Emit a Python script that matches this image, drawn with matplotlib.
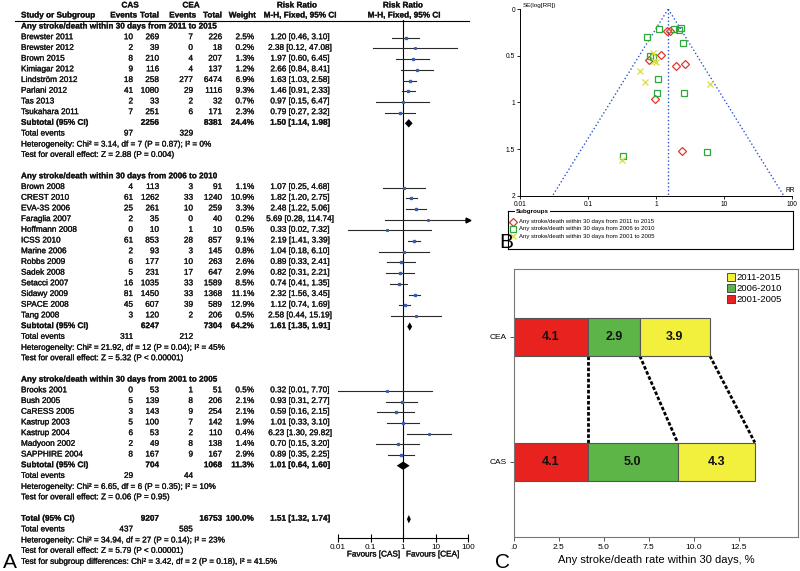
import numpy as np
import matplotlib
matplotlib.use('Agg')
import matplotlib.pyplot as plt
import matplotlib.patheffects as pe
from matplotlib.patches import Patch

plt.rcParams['font.family'] = ['Liberation Sans', 'DejaVu Sans']

W, H = 800, 571

# ---- forest plot data ----
g1_title = 'Any stroke/death within 30 days from 2011 to 2015'
g1_names = ['Brewster 2011', 'Brewster 2012', 'Brown 2015', 'Kimiagar 2012',
            'Lindström 2012', 'Parlani 2012', 'Tas 2013', 'Tsukahara 2011']
g1_cas_ev = [10, 2, 8, 9, 18, 41, 2, 7]
g1_cas_n = [269, 39, 210, 116, 258, 1080, 33, 251]
g1_cea_ev = [7, 0, 4, 4, 277, 29, 2, 6]
g1_cea_n = [226, 18, 207, 137, 6474, 1116, 32, 171]
g1_weight = [2.5, 0.2, 1.3, 1.2, 6.9, 9.3, 0.7, 2.3]
g1_rr = [1.20, 2.38, 1.97, 2.66, 1.63, 1.46, 0.97, 0.79]
g1_lo = [0.46, 0.12, 0.60, 0.84, 1.03, 0.91, 0.15, 0.27]
g1_hi = [3.10, 47.08, 6.45, 8.41, 2.58, 2.33, 6.47, 2.32]
g1_sub = [2256, 8381, 24.4, 1.50, 1.14, 1.98]
g1_events = [97, 329]
g1_het = 'Heterogeneity: Chi² = 3.14, df = 7 (P = 0.87); I² = 0%'
g1_test = 'Test for overall effect: Z = 2.88 (P = 0.004)'

g2_title = 'Any stroke/death within 30 days from 2006 to 2010'
g2_names = ['Brown 2008', 'CREST 2010', 'EVA-3S 2006', 'Faraglia 2007',
            'Hoffmann 2008', 'ICSS 2010', 'Marine 2006', 'Robbs 2009',
            'Sadek 2008', 'Setacci 2007', 'Sidawy 2009', 'SPACE 2008', 'Tang 2008']
g2_cas_ev = [4, 61, 25, 2, 0, 61, 2, 6, 5, 16, 81, 45, 3]
g2_cas_n = [113, 1262, 261, 35, 10, 853, 93, 177, 231, 1035, 1450, 607, 120]
g2_cea_ev = [3, 33, 10, 0, 1, 28, 3, 10, 17, 33, 33, 39, 2]
g2_cea_n = [91, 1240, 259, 40, 10, 857, 145, 263, 647, 1589, 1368, 589, 206]
g2_weight = [1.1, 10.9, 3.3, 0.2, 0.5, 9.1, 0.8, 2.6, 2.9, 8.5, 11.1, 12.9, 0.5]
g2_rr = [1.07, 1.82, 2.48, 5.69, 0.33, 2.19, 1.04, 0.89, 0.82, 0.74, 2.32, 1.12, 2.58]
g2_lo = [0.25, 1.20, 1.22, 0.28, 0.02, 1.41, 0.18, 0.33, 0.31, 0.41, 1.56, 0.74, 0.44]
g2_hi = [4.68, 2.75, 5.06, 114.74, 7.32, 3.39, 6.10, 2.41, 2.21, 1.35, 3.45, 1.69, 15.19]
g2_sub = [6247, 7304, 64.2, 1.61, 1.35, 1.91]
g2_events = [311, 212]
g2_het = 'Heterogeneity: Chi² = 21.92, df = 12 (P = 0.04); I² = 45%'
g2_test = 'Test for overall effect: Z = 5.32 (P < 0.00001)'

g3_title = 'Any stroke/death within 30 days from 2001 to 2005'
g3_names = ['Brooks 2001', 'Bush 2005', 'CaRESS 2005', 'Kastrup 2003',
            'Kastrup 2004', 'Madyoon 2002', 'SAPPHIRE 2004']
g3_cas_ev = [0, 5, 3, 5, 6, 2, 8]
g3_cas_n = [53, 139, 143, 100, 53, 49, 167]
g3_cea_ev = [1, 8, 9, 7, 2, 8, 9]
g3_cea_n = [51, 206, 254, 142, 110, 138, 167]
g3_weight = [0.5, 2.1, 2.1, 1.9, 0.4, 1.4, 2.9]
g3_rr = [0.32, 0.93, 0.59, 1.01, 6.23, 0.70, 0.89]
g3_lo = [0.01, 0.31, 0.16, 0.33, 1.30, 0.15, 0.35]
g3_hi = [7.70, 2.77, 2.15, 3.10, 29.82, 3.20, 2.25]
g3_sub = [704, 1068, 11.3, 1.01, 0.64, 1.60]
g3_events = [29, 44]
g3_het = 'Heterogeneity: Chi² = 6.65, df = 6 (P = 0.35); I² = 10%'
g3_test = 'Test for overall effect: Z = 0.06 (P = 0.95)'

tot_sub = [9207, 16753, 100.0, 1.51, 1.32, 1.74]
tot_events = [437, 585]
tot_het = 'Heterogeneity: Chi² = 34.94, df = 27 (P = 0.14); I² = 23%'
tot_test = 'Test for overall effect: Z = 5.79 (P < 0.00001)'
tot_subgroup = 'Test for subgroup differences: Chi² = 3.42, df = 2 (P = 0.18), I² = 41.5%'

# ---- funnel plot SE values (panel B) ----
g1_se = [0.49, 1.52, 0.61, 0.59, 0.23, 0.24, 0.96, 0.55]
g2_se = [0.75, 0.21, 0.36, 1.53, 1.57, 0.22, 0.90, 0.51, 0.50, 0.30, 0.20, 0.21, 0.90]
g3_se = [1.62, 0.56, 0.66, 0.57, 0.80, 0.78, 0.47]
pooled_rr = 1.51

# ---- stacked bars (panel C) ----
bar_cats = ['CAS', 'CEA']
rate_2001_2005 = [4.1, 4.1]
rate_2006_2010 = [5.0, 2.9]
rate_2011_2015 = [4.3, 3.9]

fig = plt.figure(figsize=(8, 5.71), dpi=100)


def px_axes(x0, y0, x1, y1):
    return fig.add_axes([x0 / W, 1 - y1 / H, (x1 - x0) / W, (y1 - y0) / H])


def px_text(x, y, s, **kw):
    fig.text(x / W, 1 - y / H, s, **kw)


# ================= Panel A: forest plot =================
tab = px_axes(0, 0, 470, H)
tab.set_xlim(0, 470)
tab.set_ylim(H, 0)
tab.axis('off')

fp = px_axes(338, 20, 468, 538)
fp.set_xscale('log')
fp.set_xlim(0.01, 100)
fp.set_ylim(538, 20)
fp.patch.set_visible(False)
for s in ['top', 'right', 'left']:
    fp.spines[s].set_visible(False)
fp.set_yticks([])
fp.set_xticks([0.01, 0.1, 1, 10, 100])
fp.set_xticklabels(['0.01', '0.1', '1', '10', '100'])
fp.minorticks_off()
fp.tick_params(axis='x', direction='inout', length=6, width=0.8, labelsize=5.9, pad=1)
fp.axvline(1, color='black', lw=0.8)

fs = 5.9
tc = '#151515'
txt = dict(fontsize=fs, color=tc, va='center',
           path_effects=[pe.withStroke(linewidth=0.2, foreground=tc)])
bold = dict(fontsize=fs, color=tc, va='center', fontweight='bold',
            path_effects=[pe.withStroke(linewidth=0.15, foreground=tc)])

# header
tab.text(130, 6, 'CAS', ha='center', **bold)
tab.text(191, 6, 'CEA', ha='center', **bold)
tab.text(297, 6, 'Risk Ratio', ha='center', **bold)
tab.text(403, 6, 'Risk Ratio', ha='center', **bold)
tab.text(21, 16, 'Study or Subgroup', ha='left', **bold)
tab.text(137, 16, 'Events', ha='right', **bold)
tab.text(159, 16, 'Total', ha='right', **bold)
tab.text(196, 16, 'Events', ha='right', **bold)
tab.text(222, 16, 'Total', ha='right', **bold)
tab.text(256, 16, 'Weight', ha='right', **bold)
tab.text(300, 16, 'M-H, Fixed, 95% CI', ha='center', **bold)
tab.text(404, 16, 'M-H, Fixed, 95% CI', ha='center', **bold)
tab.plot([15, 470], [20.5, 20.5], color='black', lw=0.8)

ROW0, STEP = 27, 10.7
X_NAME, X_CASE, X_CASN, X_CEAE, X_CEAN, X_W, X_CI = 21, 133, 159, 193, 222, 254, 300


def ci_text(r, l, h):
    return f'{r:.2f} [{l:.2f}, {h:.2f}]'


def diamond(y, est, lo, hi, half=4.2):
    fp.fill([lo, est, hi, est], [y, y - half, y, y + half], color='black', lw=0)


groups = [
    (g1_title, g1_names, g1_cas_ev, g1_cas_n, g1_cea_ev, g1_cea_n, g1_weight,
     g1_rr, g1_lo, g1_hi, g1_sub, g1_events, g1_het, g1_test),
    (g2_title, g2_names, g2_cas_ev, g2_cas_n, g2_cea_ev, g2_cea_n, g2_weight,
     g2_rr, g2_lo, g2_hi, g2_sub, g2_events, g2_het, g2_test),
    (g3_title, g3_names, g3_cas_ev, g3_cas_n, g3_cea_ev, g3_cea_n, g3_weight,
     g3_rr, g3_lo, g3_hi, g3_sub, g3_events, g3_het, g3_test),
]

row = 0
for (title, names, cas_e, cas_n, cea_e, cea_n, wt, rr, lo, hi,
     sub, events, het, test) in groups:
    tab.text(X_NAME, ROW0 + row * STEP, title, ha='left', **bold)
    row += 1
    for k in range(len(names)):
        y = ROW0 + row * STEP
        tab.text(X_NAME, y, names[k], ha='left', **txt)
        tab.text(X_CASE, y, str(cas_e[k]), ha='right', **txt)
        tab.text(X_CASN, y, str(cas_n[k]), ha='right', **txt)
        tab.text(X_CEAE, y, str(cea_e[k]), ha='right', **txt)
        tab.text(X_CEAN, y, str(cea_n[k]), ha='right', **txt)
        tab.text(X_W, y, f'{wt[k]:.1f}%', ha='right', **txt)
        tab.text(X_CI, y, ci_text(rr[k], lo[k], hi[k]), ha='center', **txt)
        l, h = max(lo[k], 0.01), min(hi[k], 100)
        fp.plot([l, h], [y, y], color='#2a2a2a', lw=0.8)
        if hi[k] > 100:
            fp.plot(100, y, marker='>', color='black', ms=3.5, clip_on=False)
        fp.plot(rr[k], y, 's', color='#3b5bb5', mec='#3b5bb5',
                ms=1.0 + 0.32 * np.sqrt(wt[k]))
        row += 1
    y = ROW0 + row * STEP
    tab.text(X_NAME, y, 'Subtotal (95% CI)', ha='left', **bold)
    tab.text(X_CASN, y, str(sub[0]), ha='right', **bold)
    tab.text(X_CEAN, y, str(sub[1]), ha='right', **bold)
    tab.text(X_W, y, f'{sub[2]:.1f}%', ha='right', **bold)
    tab.text(X_CI, y, ci_text(sub[3], sub[4], sub[5]), ha='center', **bold)
    diamond(y, sub[3], sub[4], sub[5])
    row += 1
    y = ROW0 + row * STEP
    tab.text(X_NAME, y, 'Total events', ha='left', **txt)
    tab.text(X_CASE, y, str(events[0]), ha='right', **txt)
    tab.text(X_CEAE, y, str(events[1]), ha='right', **txt)
    row += 1
    tab.text(X_NAME, ROW0 + row * STEP, het, ha='left', **txt)
    row += 1
    tab.text(X_NAME, ROW0 + row * STEP, test, ha='left', **txt)
    row += 2

y = ROW0 + row * STEP
tab.text(X_NAME, y, 'Total (95% CI)', ha='left', **bold)
tab.text(X_CASN, y, str(tot_sub[0]), ha='right', **bold)
tab.text(X_CEAN, y, str(tot_sub[1]), ha='right', **bold)
tab.text(X_W, y, f'{tot_sub[2]:.1f}%', ha='right', **bold)
tab.text(X_CI, y, ci_text(tot_sub[3], tot_sub[4], tot_sub[5]), ha='center', **bold)
diamond(y, tot_sub[3], tot_sub[4], tot_sub[5])
row += 1
y = ROW0 + row * STEP
tab.text(X_NAME, y, 'Total events', ha='left', **txt)
tab.text(X_CASE, y, str(tot_events[0]), ha='right', **txt)
tab.text(X_CEAE, y, str(tot_events[1]), ha='right', **txt)
row += 1
for line in [tot_het, tot_test, tot_subgroup]:
    tab.text(X_NAME, ROW0 + row * STEP, line, ha='left', **txt)
    row += 1

tab.text(400, 555, 'Favours [CAS]', ha='right', **txt)
tab.text(406, 555, 'Favours [CEA]', ha='left', **txt)

# ================= Panel B: funnel plot =================
fn = px_axes(520, 9, 792, 196)
fn.set_xscale('log')
fn.set_xlim(0.01, 100)
fn.set_ylim(2, 0)
fn.spines[['top', 'right']].set_visible(False)
for s in ['left', 'bottom']:
    fn.spines[s].set_linewidth(0.7)
fn.set_xticks([0.01, 0.1, 1, 10, 100])
fn.set_xticklabels(['0.01', '0.1', '1', '10', '100'])
fn.minorticks_off()
fn.set_yticks([0, 0.5, 1, 1.5, 2])
fn.set_yticklabels(['0', '0.5', '1', '1.5', '2'])
fn.tick_params(labelsize=4.8, length=2.5, width=0.6, pad=1)

se_ends = np.array([0.0, 2.0])
fn.plot(pooled_rr * np.exp(-1.96 * se_ends), se_ends, ':', color='#2a56d0', lw=1)
fn.plot(pooled_rr * np.exp(1.96 * se_ends), se_ends, ':', color='#2a56d0', lw=1)
fn.plot([pooled_rr, pooled_rr], se_ends, ':', color='#2a56d0', lw=1)

red_c, green_c, yel_c = '#e0362c', '#2ea83a', '#dcdc3a'
fn.plot(g1_rr, g1_se, 'D', mfc='none', mec=red_c, mew=0.9, ms=4.2, ls='none')
fn.plot(g2_rr, g2_se, 's', mfc='none', mec=green_c, mew=0.9, ms=4.2, ls='none')
fn.plot(g3_rr, g3_se, 'x', color=yel_c, mew=0.9, ms=4.2, ls='none')

px_text(523, 6, 'SE(log[RR])', fontsize=4.5, va='center', ha='left')
px_text(785, 190, 'RR', fontsize=4.8, va='center', ha='left')

# legend box for B
lg = px_axes(508, 211, 793, 249)
lg.set_xlim(508, 793)
lg.set_ylim(249, 211)
lg.set_xticks([])
lg.set_yticks([])
for s in lg.spines.values():
    s.set_linewidth(0.8)
lg.text(516, 211.5, 'Subgroups', fontsize=4.5, fontweight='bold', va='center',
        bbox=dict(facecolor='white', edgecolor='none', pad=0.6))
lg_entries = [('D', red_c, g1_title), ('s', green_c, g2_title), ('x', yel_c, g3_title)]
for j, (mk, col, lab) in enumerate(lg_entries):
    yy = 221.5 + j * 7.3
    if mk == 'x':
        lg.plot(513, yy, mk, color=col, ms=4.2, mew=0.9)
    else:
        lg.plot(513, yy, mk, mfc='none', mec=col, ms=4.2, mew=0.9)
    lg.text(519, yy, lab, fontsize=4.3, va='center', ha='left')

# ================= Panel C: stacked bars =================
bc = px_axes(514, 269, 798, 537)
bc.set_xlim(0, 15.8)
bc.set_ylim(-0.606, 1.546)
ypos = np.arange(len(bar_cats))
bh = 0.305
left = np.zeros(len(bar_cats))
ends = []
for vals, col in [(rate_2001_2005, '#e8231f'), (rate_2006_2010, '#5cb546'),
                  (rate_2011_2015, '#f2f03c')]:
    vals = np.array(vals)
    bc.barh(ypos, vals, left=left, height=bh, color=col, edgecolor='#555555', lw=0.8, zorder=2)
    for yy, v, l in zip(ypos, vals, left):
        bc.text(l + v / 2, yy, f'{v:.1f}', ha='center', va='center',
                fontsize=9, fontweight='bold', color='#111111', zorder=3)
    left = left + vals
    ends.append(left.copy())

for e in ends:
    bc.plot([e[1], e[0]], [1 - bh / 2, 0 + bh / 2], color='black', lw=2,
            ls=(0, (1.3, 0.7)), zorder=1)

bc.set_xticks([0, 2.5, 5, 7.5, 10, 12.5])
bc.set_xticklabels(['.0', '2.5', '5.0', '7.5', '10.0', '12.5'])
bc.set_yticks(ypos)
bc.set_yticklabels(bar_cats)
bc.tick_params(labelsize=6, length=3, width=0.7, color='#555555', pad=2)
for s in bc.spines.values():
    s.set_color('#777777')
    s.set_linewidth(0.8)
bc.set_xlabel('Any stroke/death rate within 30 days, %', fontsize=8, labelpad=3)

handles = [Patch(facecolor='#f2f03c', edgecolor='#333333', lw=0.6, label='2011-2015'),
           Patch(facecolor='#5cb546', edgecolor='#333333', lw=0.6, label='2006-2010'),
           Patch(facecolor='#e8231f', edgecolor='#333333', lw=0.6, label='2001-2005')]
bc.legend(handles=handles, loc='upper left', bbox_to_anchor=(727 / W, 1 - 273 / H),
          bbox_transform=fig.transFigure, frameon=False, fontsize=6.8,
          handlelength=0.8, handleheight=1.0, handletextpad=0.25,
          labelspacing=0.15, borderpad=0, borderaxespad=0)

# panel letters
px_text(10, 562, 'A', fontsize=15, ha='center', va='center')
px_text(506, 242, 'B', fontsize=15, ha='center', va='center')
px_text(503, 562, 'C', fontsize=15, ha='center', va='center')

fig.savefig('out.png', dpi=100)
